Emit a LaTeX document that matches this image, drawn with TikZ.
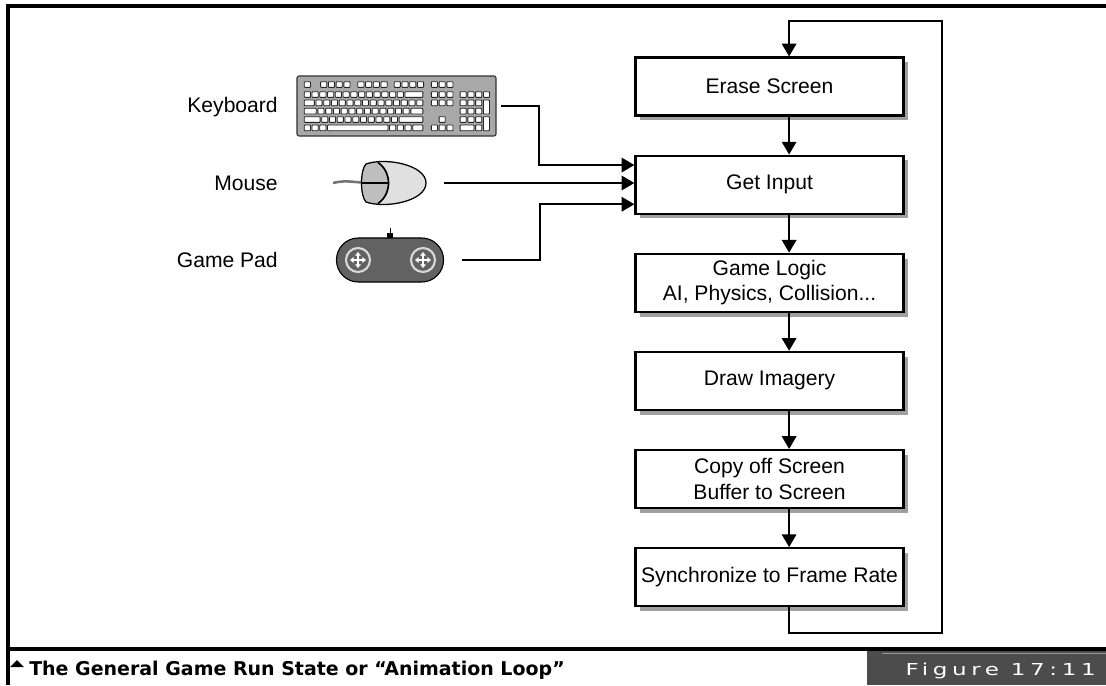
\documentclass[tikz,border=0pt]{standalone}
\usepackage{fontspec}
\setmainfont{Liberation Sans}
\newfontfamily\capfont{DejaVu Sans}
\newfontfamily\figfont[FakeStretch=1.4, LetterSpace=28]{DejaVu Sans}
\usetikzlibrary{arrows.meta, positioning, shadows}
\definecolor{cShadow}{RGB}{160,160,160}
\definecolor{cKeys}{RGB}{168,168,168}
\definecolor{cPad}{RGB}{98,98,98}
\definecolor{cMouseL}{RGB}{190,190,190}
\definecolor{cMouseR}{RGB}{224,224,224}
\definecolor{cLabel}{RGB}{76,76,76}
\tikzset{
    loopbox/.style ={rectangle, draw=black, line width=1.5pt, fill=white, minimum width=6.7cm, minimum height=1.45cm, inner sep=1pt, align=center, font=\fontsize{15}{18}\selectfont, drop shadow={shadow xshift=0.12cm, shadow yshift=-0.12cm, fill=cShadow, opacity=1}},
    devlabel/.style={anchor=east, inner sep=0pt, font=\fontsize{15}{18}\selectfont},
    flowarrow/.style={-{Triangle[length=0.32cm, width=0.36cm]}, line width=1.5pt},
    kbdkey/.style  ={draw=black!85, fill=white, line width=0.6pt, rounded corners=0.5pt},
    frameline/.style={line width=2.2pt},
}
% one key of the keyboard: column (in key units), row top, width (in key units)
\newcommand{\kbdkey}[3]{\draw[kbdkey] ({7.3+(#1)*7.75},#2) rectangle ++({(#3)*7.75-1.6},5.7);}

\begin{document}
\begin{tikzpicture}[x=0.025cm, y=-0.025cm, node distance=0.95cm and 1.0cm]
    \useasboundingbox (0,0) rectangle (1106,685);

    % the loop
    \node[loopbox] (erase) at (769.5,86.5) {Erase Screen};
    \node[loopbox, below=of erase] (input) {Get Input};
    \node[loopbox, below=of input] (logic) {Game Logic\\AI, Physics, Collision...};
    \node[loopbox, below=of logic] (draw)  {Draw Imagery};
    \node[loopbox, below=of draw]  (copy)  {Copy off Screen\\Buffer to Screen};
    \node[loopbox, below=of copy]  (sync)  {Synchronize to Frame Rate};

    \foreach \a/\b in {erase/input, input/logic, logic/draw, draw/copy, copy/sync}
        \draw[flowarrow] ([xshift=0.49cm]\a.south) -- ([xshift=0.49cm]\b.north);

    \coordinate (loopbot) at (942,633);
    \coordinate (looptop) at (942,21);
    \draw[flowarrow] ([xshift=0.49cm]sync.south) |- (loopbot) -- (looptop) -| ([xshift=0.49cm]erase.north);

    % input devices
    \node[devlabel] (kbdlabel)   at (278,107) {Keyboard};
    \node[devlabel] (mouselabel) at (278,183) {Mouse};
    \node[devlabel] (padlabel)   at (278,260) {Game Pad};

    % keyboard
    \node[draw=black!80, fill=cKeys, line width=0.8pt, rounded corners=1.5pt, minimum width=4.975cm, minimum height=1.5cm, inner sep=0pt] (kbd) at (396.5,106) {};
    \begin{scope}[shift={(297,76)}]
        \kbdkey{0}{5.7}{1}
        \foreach \i in {0,...,3} {
            \kbdkey{2.1+\i}{5.7}{1}
            \kbdkey{6.9+\i}{5.7}{1}
            \kbdkey{11.6+\i}{5.7}{1}
        }
        \foreach \i in {0,...,12} {\kbdkey{\i}{15.7}{1}}
        \kbdkey{13}{15.7}{2.5}
        \kbdkey{0}{24}{1.5}
        \foreach \i in {0,...,12} {\kbdkey{1.5+\i}{24}{1}}
        \kbdkey{14.5}{24}{1}
        \kbdkey{0}{32.3}{1.75}
        \foreach \i in {0,...,11} {\kbdkey{1.75+\i}{32.3}{1}}
        \kbdkey{13.75}{32.3}{1.75}
        \kbdkey{0}{40.7}{2.25}
        \foreach \i in {0,...,9} {\kbdkey{2.25+\i}{40.7}{1}}
        \kbdkey{12.25}{40.7}{3.25}
        \foreach \i in {0,1,2} {
            \kbdkey{\i}{49}{1}
            \kbdkey{11+\i}{49}{1}
        }
        \kbdkey{3}{49}{8}
        \kbdkey{14}{49}{1.5}
        % arrow and page keys
        \foreach \i in {0,1,2} {
            \kbdkey{16.4+\i}{5.7}{1}
            \kbdkey{16.4+\i}{15.7}{1}
            \kbdkey{16.4+\i}{24}{1}
            \kbdkey{16.4+\i}{49}{1}
        }
        \kbdkey{17.4}{40.7}{1}
        % number pad
        \foreach \i in {0,...,3} {\kbdkey{20.1+\i}{15.7}{1}}
        \foreach \i in {0,1,2} {
            \kbdkey{20.1+\i}{24}{1}
            \kbdkey{20.1+\i}{32.3}{1}
            \kbdkey{20.1+\i}{40.7}{1}
        }
        \draw[kbdkey] ({7.3+23.1*7.75},24) rectangle ++(6.15,14);
        \draw[kbdkey] ({7.3+23.1*7.75},40.7) rectangle ++(6.15,14);
        \kbdkey{20.1}{49}{2}
        \kbdkey{22.1}{49}{1}
    \end{scope}

    % mouse
    \node[minimum width=1.6cm, minimum height=1.05cm, inner sep=0pt] (mouse) at (394,183) {};
    \draw[black!55, line width=1.8pt] (333,183) .. controls (345,180) and (352,182) .. (362,182.5);
    \begin{scope}
        \clip (366,164) .. controls (386,157) and (426,165) .. (426,183) .. controls (426,201) and (386,209) .. (366,202) .. controls (360,196) and (360,170) .. (366,164) -- cycle;
        \fill[cMouseR] (340,150) rectangle (440,215);
        \fill[cMouseL] (340,150) -- (378,150) -- (378,162.5) .. controls (392,172) and (392,194) .. (378,203.5) -- (378,215) -- (340,215) -- cycle;
    \end{scope}
    \draw[line width=0.9pt] (366,164) .. controls (386,157) and (426,165) .. (426,183) .. controls (426,201) and (386,209) .. (366,202) .. controls (360,196) and (360,170) .. (366,164) -- cycle;
    \draw[line width=1.2pt] (378,162.5) .. controls (392,172) and (392,194) .. (378,203.5);
    \draw[line width=0.9pt] (362,183) -- (389,183);

    % game pad
    \draw[line width=0.6pt] (390,228) -- (390,233);
    \fill[black] (387,233) rectangle (393,240);
    \node[draw=black, fill=cPad, line width=0.8pt, rounded corners=0.545cm, minimum width=2.675cm, minimum height=1.1cm, inner sep=0pt] (pad) at (390,260) {};
    \foreach \c in {358,423} {
        \draw[black!15, line width=1.5pt] (\c,260) circle (0.3cm);
        \draw[white, line width=1.3pt, {Triangle[length=2.5pt, width=4pt]}-{Triangle[length=2.5pt, width=4pt]}] (\c-8,260) -- (\c+8,260);
        \draw[white, line width=1.3pt, {Triangle[length=2.5pt, width=4pt]}-{Triangle[length=2.5pt, width=4pt]}] (\c,252) -- (\c,268);
    }

    % devices into Get Input
    \draw[flowarrow] ([xshift=0.12cm]kbd.east) -- ++(38,0) |- ([yshift=0.49cm]input.west);
    \draw[flowarrow] ([xshift=0.45cm]mouse.east) -- (mouse.east -| input.west);
    \draw[flowarrow] ([xshift=0.44cm]pad.east) -- ++(78,0) |- ([yshift=-0.49cm]input.west);

    % frame and caption
    \draw[frameline] (8,685) -- (8,6) -- (1106,6);
    \draw[frameline] (8,649) -- (1106,649);
    \fill (10,667) -- (24,667) -- (17,660) -- cycle;
    \node[anchor=base west, inner sep=0pt, font=\capfont\bfseries\fontsize{13.5}{16}\selectfont] (caption) at (29,675) {The General Game Run State or “Animation Loop”};
    \fill[cLabel] (867,650.5) rectangle (1106,685);
    \draw[black!40, line width=0.6pt] (882,653.5) -- (1106,653.5);
    \node[anchor=base east, inner sep=0pt, text=white, font=\figfont\fontsize{11.7}{13}\selectfont] (figlabel) at (1096,675) {Figure 17:11};
\end{tikzpicture}
\end{document}
